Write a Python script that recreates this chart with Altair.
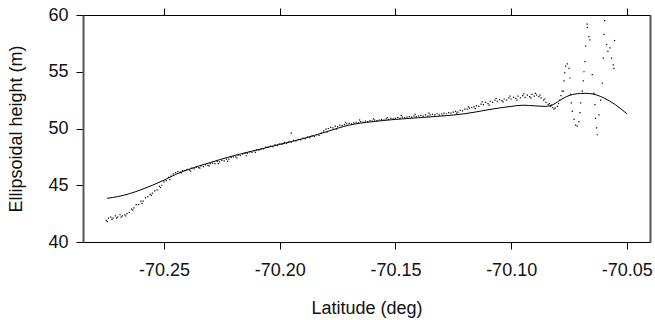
import altair as alt
import pandas as pd

# ---- smooth model curve ----
line_lat = [-70.2746, -70.270, -70.265, -70.260, -70.255, -70.250, -70.245, -70.240,
            -70.230, -70.220, -70.210, -70.200, -70.190, -70.180, -70.170, -70.160,
            -70.150, -70.140, -70.130, -70.120, -70.110, -70.100, -70.095, -70.090,
            -70.085, -70.082, -70.078, -70.075, -70.072, -70.068, -70.065, -70.060,
            -70.055, -70.050]
line_h = [43.85, 44.0, 44.25, 44.6, 45.0, 45.45, 45.95, 46.35,
          47.0, 47.6, 48.1, 48.6, 49.1, 49.7, 50.3, 50.6,
          50.8, 50.95, 51.1, 51.3, 51.65, 51.95, 52.05, 52.0,
          51.95, 52.1, 52.6, 52.9, 53.05, 53.1, 53.05, 52.7,
          52.1, 51.3]

# ---- measured points: main track ----
dot_lat = [-70.275, -70.274, -70.273, -70.272, -70.271, -70.270, -70.269, -70.268, -70.267, -70.266,
           -70.265, -70.264, -70.263, -70.262, -70.261, -70.260, -70.259, -70.258, -70.257, -70.256,
           -70.255, -70.254, -70.253, -70.252, -70.251, -70.250, -70.249, -70.248, -70.247, -70.246,
           -70.245, -70.244, -70.243, -70.242, -70.241, -70.240, -70.239, -70.238, -70.237, -70.236,
           -70.235, -70.234, -70.233, -70.232, -70.231, -70.230, -70.229, -70.228, -70.227, -70.226,
           -70.225, -70.224, -70.223, -70.222, -70.221, -70.220, -70.219, -70.218, -70.217, -70.216,
           -70.215, -70.214, -70.213, -70.212, -70.211, -70.210, -70.209, -70.208, -70.207, -70.206,
           -70.205, -70.204, -70.203, -70.202, -70.201, -70.200, -70.199, -70.198, -70.197, -70.196,
           -70.195, -70.194, -70.193, -70.192, -70.191, -70.190, -70.189, -70.188, -70.187, -70.186,
           -70.185, -70.184, -70.183, -70.182, -70.181, -70.180, -70.179, -70.178, -70.177, -70.176,
           -70.175, -70.174, -70.173, -70.172, -70.171, -70.170, -70.169, -70.168, -70.167, -70.166,
           -70.165, -70.164, -70.163, -70.162, -70.161, -70.160, -70.159, -70.158, -70.157, -70.156,
           -70.155, -70.154, -70.153, -70.152, -70.151, -70.150, -70.149, -70.148, -70.147, -70.146,
           -70.145, -70.144, -70.143, -70.142, -70.141, -70.140, -70.139, -70.138, -70.137, -70.136,
           -70.135, -70.134, -70.133, -70.132, -70.131, -70.130, -70.129, -70.128, -70.127, -70.126,
           -70.125, -70.124, -70.123, -70.122, -70.121, -70.120, -70.119, -70.118, -70.117, -70.116,
           -70.115, -70.114, -70.113, -70.112, -70.111, -70.110, -70.109, -70.108, -70.107, -70.106,
           -70.105, -70.104, -70.103, -70.102, -70.101, -70.100, -70.099, -70.098, -70.097, -70.096,
           -70.095, -70.094, -70.093, -70.092, -70.091, -70.090, -70.089, -70.088, -70.087, -70.086,
           -70.085, -70.084, -70.083, -70.082, -70.081, -70.080]
dot_h = [41.9, 42.1, 42.2, 42.1, 42.3, 42.2, 42.4, 42.3, 42.4, 42.5,
         42.6, 42.9, 43.0, 43.3, 43.3, 43.6, 43.6, 43.9, 44.0, 44.2,
         44.3, 44.5, 44.6, 44.9, 45.0, 45.3, 45.4, 45.7, 45.8, 46.0,
         46.1, 46.2, 46.15, 46.3, 46.3, 46.4, 46.35, 46.5, 46.45, 46.6,
         46.55, 46.7, 46.65, 46.8, 46.75, 46.9, 46.95, 46.9, 47.1, 47.05,
         47.2, 47.15, 47.3, 47.3, 47.45, 47.5, 47.5, 47.65, 47.6, 47.75,
         47.8, 47.8, 47.95, 47.9, 48.05, 48.1, 48.1, 48.2, 48.2, 48.35,
         48.35, 48.45, 48.4, 48.55, 48.5, 48.65, 48.6, 48.75, 48.7, 48.85,
         48.8, 48.95, 48.9, 49.05, 49.0, 49.15, 49.1, 49.25, 49.2, 49.35,
         49.3, 49.45, 49.4, 49.6, 49.8, 49.95, 50.0, 50.1, 50.05, 50.2,
         50.15, 50.3, 50.25, 50.35, 50.4, 50.45, 50.4, 50.5, 50.55, 50.5,
         50.6, 50.55, 50.65, 50.6, 50.7, 50.65, 50.75, 50.7, 50.75, 50.8,
         50.75, 50.85, 50.8, 50.9, 50.85, 50.9, 50.95, 50.9, 51.0, 50.95,
         51.0, 51.05, 51.0, 51.1, 51.05, 51.1, 51.15, 51.1, 51.2, 51.1,
         51.2, 51.25, 51.2, 51.3, 51.2, 51.3, 51.35, 51.3, 51.4, 51.35,
         51.45, 51.5, 51.45, 51.6, 51.55, 51.7, 51.7, 51.8, 51.85, 51.9,
         52.0, 51.95, 52.15, 52.1, 52.3, 52.2, 52.4, 52.3, 52.5, 52.4,
         52.55, 52.45, 52.6, 52.5, 52.7, 52.6, 52.75, 52.65, 52.85, 52.7,
         52.9, 52.75, 52.95, 52.8, 53.0, 52.85, 52.95, 52.8, 52.7, 52.5,
         52.3, 52.1, 51.95, 51.85, 51.8, 51.95]

# ---- measured points: second row of the band ----
extra_lat = [-70.2745, -70.2725, -70.2705, -70.2685, -70.2665, -70.2635, -70.2595, -70.2555,
             -70.2515, -70.2475, -70.2425, -70.2385, -70.2345, -70.2305, -70.2265, -70.2225,
             -70.2185, -70.2145, -70.2105, -70.1950, -70.1795, -70.1755, -70.1715, -70.1655,
             -70.1595, -70.1535, -70.1475, -70.1415, -70.1355, -70.1295, -70.1235, -70.1185,
             -70.1155, -70.1125, -70.1095, -70.1065, -70.1035, -70.1005, -70.0975, -70.0945,
             -70.0915, -70.0895, -70.0875, -70.0855, -70.0835, -70.0825, -70.0815]
extra_h = [41.8, 42.0, 42.1, 42.2, 42.3, 42.8, 43.4, 44.1,
           44.8, 45.5, 46.1, 46.25, 46.5, 46.7, 46.9, 47.1,
           47.4, 47.6, 47.9, 49.6, 49.7, 49.95, 50.55, 50.75,
           50.85, 50.95, 51.15, 51.25, 51.35, 51.15, 51.35, 51.9,
           51.75, 52.35, 52.05, 52.65, 52.35, 52.85, 52.5, 53.05,
           52.7, 53.1, 52.95, 52.6, 52.2, 52.05, 51.7]

# ---- measured points: oscillating tail ----
tail_lat = [-70.0795, -70.0790, -70.0785, -70.0780, -70.07746, -70.07716, -70.07685, -70.07642,
            -70.07573, -70.07500, -70.07457, -70.07427, -70.07401, -70.07358, -70.07284, -70.07211,
            -70.07142, -70.07069, -70.07026, -70.06996, -70.06927, -70.06884, -70.06853, -70.06810,
            -70.06780, -70.06711, -70.06720, -70.06638, -70.06595, -70.06496, -70.06422, -70.06379,
            -70.06349, -70.06306, -70.06280, -70.06207, -70.06134, -70.06065, -70.06022, -70.05991,
            -70.05961, -70.05875, -70.05819, -70.05733, -70.05659, -70.05590, -70.05530, -70.05560]
tail_h = [52.2, 52.5, 52.9, 53.3, 53.3, 54.2, 54.9, 55.5,
          55.7, 55.3, 54.45, 53.0, 52.25, 51.5, 50.8, 50.3,
          50.2, 50.6, 51.4, 52.25, 53.3, 54.2, 55.0, 55.9,
          57.25, 58.9, 59.2, 58.1, 57.8, 54.75, 53.1, 52.1,
          50.9, 50.05, 49.45, 51.2, 52.5, 54.0, 56.2, 58.3,
          59.5, 57.4, 56.8, 57.1, 56.2, 55.6, 57.75, 55.3]

# ---- axis ranges and ticks ----
x_domain = [-70.285, -70.040]
y_domain = [40, 60]
xticks = [-70.25, -70.20, -70.15, -70.10, -70.05]
yticks = [40, 45, 50, 55, 60]

dots = pd.DataFrame({"lat": dot_lat + extra_lat + tail_lat,
                     "h": dot_h + extra_h + tail_h})
curve = pd.DataFrame({"lat": line_lat, "h": line_h})

W, H = 567, 227
FONT = "Liberation Sans"
TXT = "#111111"
xs = alt.Scale(domain=x_domain, nice=False, zero=False)
ys = alt.Scale(domain=y_domain, nice=False, zero=False)

pts = alt.Chart(dots).mark_square(size=1.5, color="#000000", opacity=1).encode(
    x=alt.X("lat:Q", scale=xs, title="Latitude (deg)",
            axis=alt.Axis(orient="bottom", values=xticks, tickSize=7, tickColor="#000000",
                          domainColor="#000000", domainWidth=1,
                          labelExpr="'-' + format(abs(datum.value), '.2f')",
                          labelPadding=12, titlePadding=20, grid=False)),
    y=alt.Y("h:Q", scale=ys, title="Ellipsoidal height (m)",
            axis=alt.Axis(orient="left", values=yticks, format="d", tickSize=7,
                          tickColor="#000000", domainColor="#555555", domainWidth=2,
                          labelPadding=8, titlePadding=22, grid=False)),
)

ln = alt.Chart(curve).mark_line(color="#000000", strokeWidth=1, interpolate="monotone").encode(
    x=alt.X("lat:Q", scale=xs, title=None,
            axis=alt.Axis(orient="top", values=xticks, labels=False, tickSize=7,
                          tickColor="#000000", domainColor="#000000", domainWidth=1,
                          grid=False)),
    y=alt.Y("h:Q", scale=ys, title=None,
            axis=alt.Axis(orient="right", values=yticks, labels=False, ticks=False,
                          domainColor="#555555", domainWidth=2, grid=False)),
)

chart = alt.layer(pts, ln).resolve_scale(x="independent", y="independent").properties(
    width=W, height=H,
    autosize=alt.AutoSizeParams(type="none"),
    padding={"left": 83, "top": 15, "right": 5, "bottom": 78},
).configure_view(stroke="#000000", strokeWidth=1).configure_axis(
    labelFont=FONT, titleFont=FONT, labelFontSize=18, titleFontSize=18,
    labelColor=TXT, titleColor=TXT, titleFontWeight="normal",
)

chart.save("out.html", embed_options={"renderer": "svg", "actions": False})
